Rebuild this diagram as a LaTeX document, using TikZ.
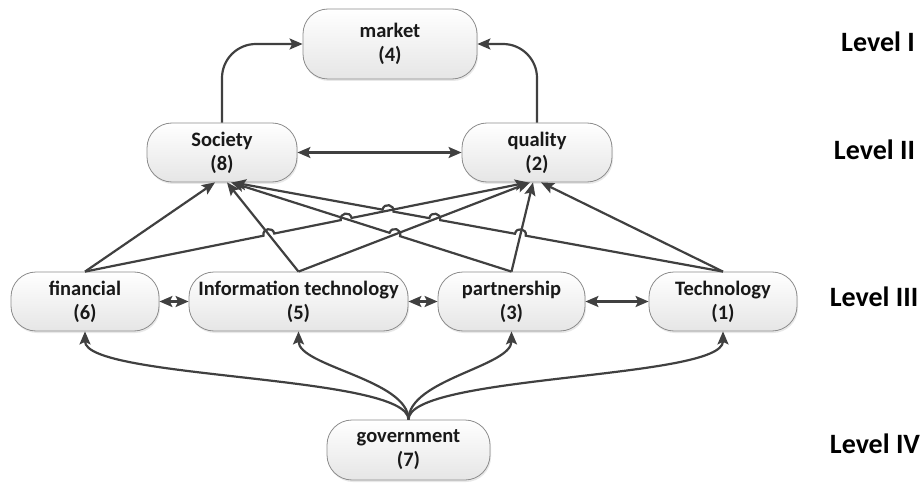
\documentclass[tikz,border=0pt]{standalone}
\usepackage{fontspec}
\setmainfont{Carlito}
\usetikzlibrary{arrows.meta,calc,shadows}
\definecolor{edge}{HTML}{404040}
\definecolor{rim}{HTML}{8C8C8C}
\begin{document}
\begin{tikzpicture}[x=1pt,y=-1pt,
  box/.style={draw=rim, line width=0.8pt, rounded corners=25pt,
    top color=white, bottom color=black!10,
    minimum height=59pt, inner sep=0pt, align=center,
    font=\bfseries\fontsize{20.5}{24}\selectfont, text=black!90,
    drop shadow={opacity=0.18, shadow xshift=1pt, shadow yshift=-2pt}},
  tip/.tip={Stealth[length=13pt,width=11pt,inset=2.5pt]},
  link/.style={draw=edge, line width=2.2pt, -tip},
  both/.style={draw=edge, line width=2.2pt, tip-tip},
  hopL/.style={bend left=90, looseness=1.7},
  hopR/.style={bend right=90, looseness=1.7},
  lvl/.style={font=\bfseries\fontsize{28}{32}\selectfont, text=black}]

\useasboundingbox (0,0) rectangle (924,484);

% factors, grouped by level
\node[box, minimum width=174pt, minimum height=70pt] (mkt) at (390,44) {market\\(4)};
\node[box, minimum width=150pt] (soc) at (222,152.5) {Society\\(8)};
\node[box, minimum width=150pt] (qua) at (537,152.5) {quality\\(2)};
\node[box, minimum width=148pt] (fin) at (85,301.5) {financial\\(6)};
\node[box, minimum width=219pt] (it) at (298.5,301.5) {Information technology\\(5)};
\node[box, minimum width=147pt] (par) at (511.5,301.5) {partnership\\(3)};
\node[box, minimum width=148pt] (tec) at (723,301.5) {Technology\\(1)};
\node[box, minimum width=163pt, minimum height=60pt] (gov) at (408.5,450) {government\\(7)};

% level captions
\node[lvl] (l1) at (878,42) {Level I};
\node[lvl] (l2) at (874.5,150) {Level II};
\node[lvl] (l3) at (874,297) {Level III};
\node[lvl] (l4) at (875,444) {Level IV};

% level II -> level I
\draw[link] (soc.north) [rounded corners=34pt] |- (mkt.west);
\draw[link] (qua.north) [rounded corners=34pt] |- (mkt.east);

% mutual links
\draw[both] (soc.east) -- (qua.west);
\draw[both] (fin.east) -- (it.west);
\draw[both] (it.east) -- (par.west);
\draw[both] (par.east) -- (tec.west);

% government drives every level III factor
\draw[link] (gov.north) .. controls +(0,-45) and +(0,48) .. (fin.south);
\draw[link] (gov.north) .. controls +(0,-40) and +(0,35) .. (it.south);
\draw[link] (gov.north) .. controls +(0,-40) and +(0,35) .. (par.south);
\draw[link] (gov.north) .. controls +(0,-45) and +(0,48) .. (tec.south);

% arrival points on Society and quality
\coordinate (sF) at ([xshift=-7pt]soc.south);
\coordinate (sI) at ([xshift=5pt]soc.south);
\coordinate (sP) at ([xshift=9pt]soc.south);
\coordinate (sT) at ([xshift=11pt]soc.south);
\coordinate (qF) at ([xshift=-9pt]qua.south);
\coordinate (qI) at ([xshift=-7pt]qua.south);
\coordinate (qP) at ([xshift=-4pt]qua.south);
\coordinate (qT) at ([xshift=4pt]qua.south);

% crossings that get a line jump
\coordinate (X1) at (intersection of fin.north--qF and it.north--sI);
\coordinate (X2) at (intersection of fin.north--qF and par.north--sP);
\coordinate (X3) at (intersection of fin.north--qF and tec.north--sT);
\coordinate (X4) at (intersection of it.north--qI and par.north--sP);
\coordinate (X5) at (intersection of it.north--qI and tec.north--sT);
\coordinate (X6) at (intersection of par.north--qP and tec.north--sT);

% straight level III -> level II links
\draw[link] (fin.north) -- (sF);
\draw[link] (it.north) -- (sI);
\draw[link] (it.north) -- (qI);
\draw[link] (par.north) -- (qP);
\draw[link] (tec.north) -- (qT);

% level III -> level II links with jumps
\draw[link] (fin.north)
  -- ($(X1)!5.5pt!(fin.north)$) to[hopL] ($(X1)!5.5pt!(qF)$)
  -- ($(X2)!5.5pt!(fin.north)$) to[hopL] ($(X2)!5.5pt!(qF)$)
  -- (qF);
\draw[link] (par.north)
  -- ($(X4)!5.5pt!(par.north)$) to[hopR] ($(X4)!5.5pt!(sP)$)
  -- (sP);
\draw[link] (tec.north)
  -- ($(X6)!5.5pt!(tec.north)$) to[hopR] ($(X6)!5.5pt!(sT)$)
  -- ($(X5)!5.5pt!(tec.north)$) to[hopR] ($(X5)!5.5pt!(sT)$)
  -- ($(X3)!5.5pt!(tec.north)$) to[hopR] ($(X3)!5.5pt!(sT)$)
  -- (sT);
\end{tikzpicture}
\end{document}
